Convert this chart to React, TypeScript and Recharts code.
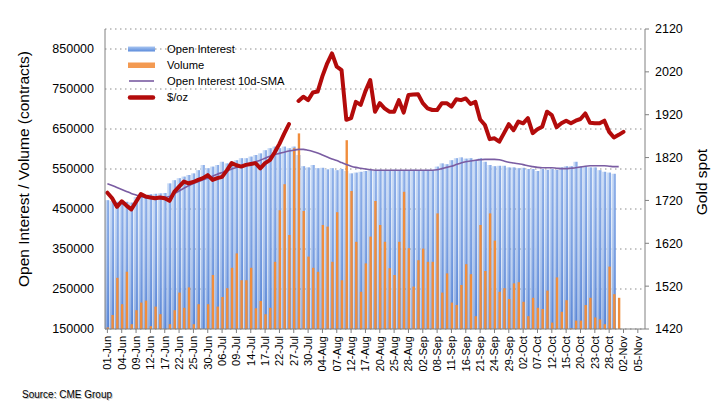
import React from "react"
import {
  ComposedChart,
  Bar,
  Line,
  XAxis,
  YAxis,
  CartesianGrid
} from "recharts"

// trading days, 01-Jun to 06-Nov
const dates = [
  "01-Jun","02-Jun","03-Jun","04-Jun","05-Jun","08-Jun","09-Jun","10-Jun","11-Jun","12-Jun","15-Jun","16-Jun","17-Jun","18-Jun","19-Jun","22-Jun","23-Jun","24-Jun","25-Jun","26-Jun","29-Jun","30-Jun",
  "01-Jul","02-Jul","06-Jul","07-Jul","08-Jul","09-Jul","10-Jul","13-Jul","14-Jul","15-Jul","16-Jul","17-Jul","20-Jul","21-Jul","22-Jul","23-Jul","24-Jul","27-Jul","28-Jul","29-Jul","30-Jul","31-Jul",
  "03-Aug","04-Aug","05-Aug","06-Aug","07-Aug","10-Aug","11-Aug","12-Aug","13-Aug","14-Aug","17-Aug","18-Aug","19-Aug","20-Aug","21-Aug","24-Aug","25-Aug","26-Aug","27-Aug","28-Aug","31-Aug",
  "01-Sep","02-Sep","03-Sep","04-Sep","08-Sep","09-Sep","10-Sep","11-Sep","14-Sep","15-Sep","16-Sep","17-Sep","18-Sep","21-Sep","22-Sep","23-Sep","24-Sep","25-Sep","28-Sep","29-Sep","30-Sep",
  "01-Oct","02-Oct","05-Oct","06-Oct","07-Oct","08-Oct","09-Oct","12-Oct","13-Oct","14-Oct","15-Oct","16-Oct","19-Oct","20-Oct","21-Oct","22-Oct","23-Oct","26-Oct","27-Oct","28-Oct","29-Oct","30-Oct",
  "02-Nov","03-Nov","04-Nov","05-Nov","06-Nov"
]

const openInterest = [
  472000,470000,468000,470000,468000,466000,480000,483000,485000,487000,
  488000,489000,490000,514000,522000,527000,531000,535000,539000,547000,
  560000,552000,556000,560000,568000,564000,568000,572000,577000,577000,
  581000,585000,589000,597000,602000,606000,602000,606000,602000,606000,
  585000,557000,554000,560000,552000,553000,549000,552000,547000,550000,
  545000,539000,541000,543000,545000,547000,545000,548000,546000,547000,
  548000,546000,547000,545000,548000,547000,546000,548000,547000,556000,
  564000,562000,572000,577000,579000,576000,577000,571000,577000,568000,
  560000,557000,558000,558000,554000,554000,552000,553000,550000,550000,
  545000,550000,548000,550000,548000,554000,557000,557000,568000,557000,
  557000,554000,554000,547000,543000,541000,538000
]

const volume = [
  154000,185000,278000,212000,293000,162000,197000,216000,221000,157000,
  206000,187000,140000,162000,197000,241000,203000,254000,162000,212000,
  140000,212000,285000,206000,230000,252000,303000,339000,272000,272000,
  303000,202000,220000,187000,203000,318000,447000,512000,385000,602000,
  639000,445000,331000,303000,293000,410000,406000,318000,442000,272000,
  622000,495000,368000,243000,314000,381000,470000,410000,368000,302000,
  285000,368000,493000,352000,256000,322000,351000,318000,318000,439000,
  241000,289000,216000,210000,260000,312000,287000,182000,410000,295000,
  439000,371000,243000,252000,225000,264000,267000,218000,182000,228000,
  203000,200000,246000,166000,279000,193000,222000,152000,171000,171000,
  210000,228000,179000,174000,162000,306000,237000,228000
]

const oiSma = [
  513000,509000,504000,499000,494000,489000,485000,481000,478000,477000,
  477000,477000,479000,481000,488000,495000,502000,508000,514000,518000,
  523000,527000,532000,537000,541000,545000,550000,554000,557000,560000,
  564000,568000,572000,577000,582000,586000,589000,592000,595000,597000,
  599000,599000,597000,594000,590000,585000,580000,575000,571000,566000,
  561000,557000,554000,552000,550000,548000,547000,547000,547000,547000,
  547000,547000,547000,547000,547000,547000,547000,547000,547000,548000,
  551000,554000,557000,561000,565000,568000,570000,572000,573000,574000,
  574000,574000,573000,570000,567000,565000,563000,561000,558000,556000,
  554000,553000,553000,553000,552000,551000,551000,552000,553000,555000,
  557000,558000,558000,558000,558000,557000,556000,556000
]

const goldSpot = [
  1738,1725,1705,1718,1708,1699,1717,1735,1729,1727,
  1725,1727,1725,1719,1740,1752,1764,1760,1763,1768,
  1772,1779,1768,1772,1775,1790,1807,1802,1799,1803,
  1805,1807,1795,1807,1814,1832,1852,1876,1898,null,
  1952,1962,1954,1972,1974,2010,2040,2063,2032,2024,
  1908,1912,1950,1943,1975,2001,1927,1947,1935,1927,
  1927,1954,1925,1966,1967,1968,1947,1935,1931,1931,
  1947,1947,1939,1956,1954,1958,1945,1950,1909,1896,
  1863,1865,1857,1877,1898,1884,1904,1900,1912,1877,
  1886,1892,1927,1919,1891,1900,1906,1900,1906,1910,
  1923,1901,1900,1900,1906,1880,1867,1873,1880
]

const leftTicks = [150000, 250000, 350000, 450000, 550000, 650000, 750000, 850000]
const rightTicks = [1420, 1520, 1620, 1720, 1820, 1920, 2020, 2120]

const VOL_FLOOR = 150000

const data = dates.map((d, i) => ({
  date: d,
  oi: openInterest[i] ?? null,
  vol: volume[i] != null ? Math.max(volume[i], VOL_FLOOR) : null,
  sma: oiSma[i] ?? null,
  gold: goldSpot[i] ?? null
}))

const FONT = "'Liberation Sans', Arial, Helvetica, sans-serif"

const OIBar = (props: any) => {
  const { x, y, width, height } = props
  if (!height || height <= 0) return null
  return (
    <g>
      <rect x={x} y={y} width={width} height={height} fill="url(#oiH)" />
      <rect x={x} y={y} width={width} height={height} fill="url(#oiV)" />
    </g>
  )
}

const XTick = (props: any) => {
  const { x, y, payload } = props
  return (
    <g transform={`translate(${x},${y})`}>
      <text
        transform="rotate(-90)"
        textAnchor="end"
        dy="0.35em"
        fontSize={11}
        fontFamily={FONT}
        fill="#000"
      >
        {payload.value}
      </text>
    </g>
  )
}

const LeftTitle = () => (
  <text
    x={23}
    y={169}
    transform="rotate(-90, 23, 169)"
    textAnchor="middle"
    dominantBaseline="central"
    fontSize={15.5}
    fontFamily={FONT}
    fill="#000"
  >
    Open Interest / Volume (contracts)
  </text>
)

const RightTitle = () => (
  <text
    x={701}
    y={182}
    transform="rotate(-90, 701, 182)"
    textAnchor="middle"
    dominantBaseline="central"
    fontSize={15.5}
    fontFamily={FONT}
    fill="#000"
  >
    Gold spot
  </text>
)

export default function App() {
  return (
    <div style={{ position: "absolute", left: 0, top: 0, width: 723, height: 416, background: "#fff" }}>

      {/* gradients */}
      <svg width={0} height={0} style={{ position: "absolute" }}>
        <defs>
          <linearGradient id="oiH" x1="0" y1="0" x2="1" y2="0">
            <stop offset="0%" stopColor="#c8dbf6" />
            <stop offset="45%" stopColor="#b3ccf2" />
            <stop offset="55%" stopColor="#7ca3e6" />
            <stop offset="100%" stopColor="#6390dd" />
          </linearGradient>
          <linearGradient id="oiV" x1="0" y1="0" x2="0" y2="1">
            <stop offset="0%" stopColor="#ffffff" stopOpacity={0.2} />
            <stop offset="100%" stopColor="#2456b8" stopOpacity={0.3} />
          </linearGradient>
          <linearGradient id="oiLeg" x1="0" y1="0" x2="0" y2="1">
            <stop offset="0%" stopColor="#a9c6f1" />
            <stop offset="100%" stopColor="#5b8bdb" />
          </linearGradient>
        </defs>
      </svg>

      <ComposedChart
        width={723}
        height={416}
        data={data}
        margin={{ top: 29, right: 20, bottom: 5, left: 0 }}
        barGap={-2.6}
      >
        <CartesianGrid
          yAxisId="left"
          vertical={false}
          stroke="#8c8c8c"
          strokeDasharray="1.5 3.5"
        />

        <XAxis
          dataKey="date"
          interval={2}
          height={82}
          tick={<XTick />}
          tickSize={4}
          tickMargin={3}
          axisLine={{ stroke: "#808080" }}
          tickLine={{ stroke: "#808080" }}
        />

        <YAxis
          yAxisId="left"
          domain={[150000, 900000]}
          ticks={leftTicks}
          interval={0}
          allowDataOverflow
          width={105}
          tickLine={false}
          tickSize={0}
          tickMargin={11}
          axisLine={{ stroke: "#808080" }}
          tick={{ fontSize: 12.5, fill: "#000", fontFamily: FONT }}
          label={<LeftTitle />}
        />

        <YAxis
          yAxisId="right"
          orientation="right"
          domain={[1420, 2120]}
          ticks={rightTicks}
          interval={0}
          allowDataOverflow
          width={58}
          tickSize={4}
          tickMargin={6}
          axisLine={{ stroke: "#808080" }}
          tickLine={{ stroke: "#808080" }}
          tick={{ fontSize: 12.5, fill: "#000", fontFamily: FONT }}
          label={<RightTitle />}
        />

        <Bar
          yAxisId="left"
          dataKey="oi"
          barSize={4.2}
          shape={(p: any) => <OIBar {...p} />}
          isAnimationActive={false}
        />

        <Bar
          yAxisId="left"
          dataKey="vol"
          barSize={2.4}
          fill="#f08d3c"
          isAnimationActive={false}
        />

        <Line
          yAxisId="left"
          type="monotone"
          dataKey="sma"
          stroke="#7a5ca2"
          strokeWidth={1.6}
          dot={false}
          activeDot={false}
          isAnimationActive={false}
        />

        <Line
          yAxisId="right"
          type="linear"
          dataKey="gold"
          stroke="#b30b0b"
          strokeWidth={4}
          strokeLinejoin="round"
          strokeLinecap="round"
          dot={false}
          activeDot={false}
          connectNulls={false}
          isAnimationActive={false}
        />
      </ComposedChart>

      {/* Legend + source */}
      <svg
        width={723}
        height={416}
        style={{ position: "absolute", left: 0, top: 0, pointerEvents: "none" }}
        fontFamily={FONT}
      >
        <rect x={128} y={46.5} width={27} height={5} fill="url(#oiLeg)" />
        <rect x={128} y={62.5} width={27} height={5.5} fill="#f39a52" />
        <line x1={129} y1={81} x2={154} y2={81} stroke="#7a5ca2" strokeWidth={1.6} />
        <line x1={130} y1={97.5} x2={153} y2={97.5} stroke="#b30b0b" strokeWidth={4.5} strokeLinecap="round" />

        <text x={167} y={49} dominantBaseline="central" fontSize={11.2} fill="#000">Open Interest</text>
        <text x={167} y={65} dominantBaseline="central" fontSize={11.2} fill="#000">Volume</text>
        <text x={167} y={81} dominantBaseline="central" fontSize={11.2} fill="#000">Open Interest 10d-SMA</text>
        <text x={167} y={97} dominantBaseline="central" fontSize={11.2} fill="#000">$/oz</text>

        <text x={23} y={395} dominantBaseline="central" fontSize={10} fill="#999" opacity={0.6}>Source: CME Group</text>
        <text x={22} y={394} dominantBaseline="central" fontSize={10} fill="#000">Source: CME Group</text>
      </svg>
    </div>
  )
}
